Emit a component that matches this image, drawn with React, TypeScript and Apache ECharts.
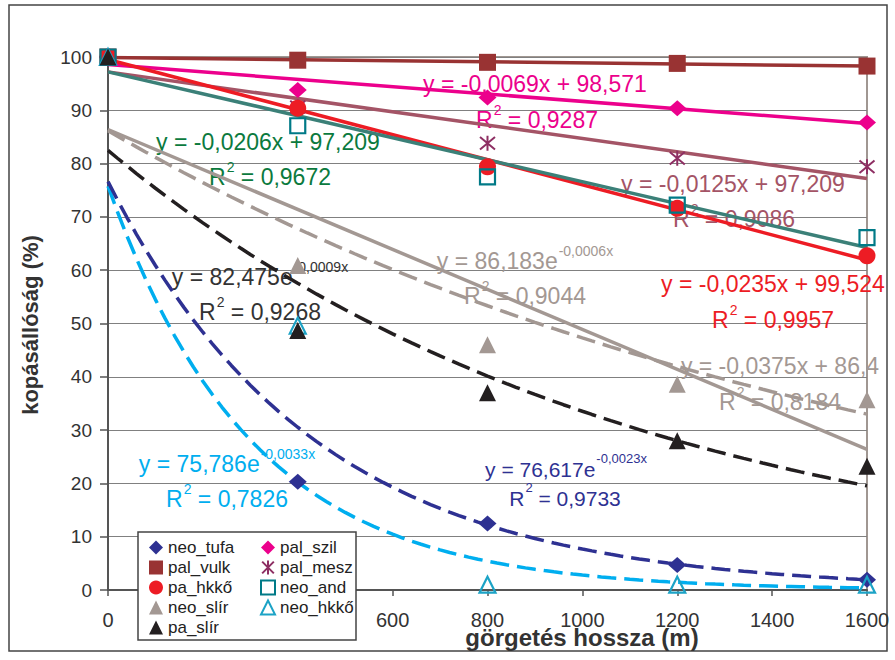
import React, { useEffect, useRef } from "react";
import * as echarts from "echarts";

// ---- data ----
const xValues = [0, 400, 800, 1200, 1600];
const xTicks = [0, 200, 400, 600, 800, 1000, 1200, 1400, 1600];
// 200 and 400 are hidden behind the legend box in the original
const xTickLabels = ["0", "", "", "600", "800", "1000", "1200", "1400", "1600"];
const yTicks = [0, 10, 20, 30, 40, 50, 60, 70, 80, 90, 100];

const neoTufa = [100, 20.3, 12.5, 4.7, 1.9];
const palSzil = [100, 93.8, 92.4, 90.4, 87.7];
const palVulk = [100, 99.4, 99.0, 98.8, 98.3];
const palMesz = [100, 90.6, 83.8, 81.0, 79.4];
const paHkko = [100, 90.4, 79.4, 71.6, 62.7];
const neoAnd = [100, 87.1, 77.5, 72.2, 66.1];
const neoSlir = [100, 60.9, 46.0, 38.6, 35.7];
const neoHkko = [100, 49.6, 1.0, 1.0, 1.0];
const paSlir = [100, 48.7, 37.0, 28.0, 23.2];

// trend line coefficients (intercept, slope / exponent) as printed
const linIntercepts = [99.9, 98.571, 97.209, 99.524, 97.209, 86.4];
const linSlopes = [-0.001, -0.0069, -0.0125, -0.0235, -0.0206, -0.0375];
const expFactors = [86.183, 82.475, 75.786, 76.617];
const expRates = [-0.0006, -0.0009, -0.0033, -0.0023];

// equation texts
const eqTexts = [
  "{m|y = -0,0206x + 97,209}",
  "{m|R}{s|2}{m| = 0,9672}",
  "{m|y = -0,0069x + 98,571}",
  "{m|R}{s|2}{m| = 0,9287}",
  "{m|y = -0,0125x + 97,209}",
  "{m|R}{s|2}{m| = 0,9086}",
  "{m|y = -0,0235x + 99,524}",
  "{m|R}{s|2}{m| = 0,9957}",
  "{m|y = -0,0375x + 86,4}",
  "{m|R}{s|2}{m| = 0,8184}",
  "{m|y = 86,183e}{s|-0,0006x}",
  "{m|R}{s|2}{m| = 0,9044}",
  "{m|y = 82,475e}{s|-0,0009x}",
  "{m|R}{s|2}{m| = 0,9268}",
  "{m|y = 75,786e}{s|-0,0033x}",
  "{m|R}{s|2}{m| = 0,7826}",
  "{m|y = 76,617e}{s|-0,0023x}",
  "{m|R}{s|2}{m| = 0,9733}",
];

// ---- styles / layout ----
const FONT = "'Liberation Sans', Arial, Helvetica, sans-serif";

const dataSeries = [
  { name: "neo_tufa", values: neoTufa, symbol: "diamond", size: [18, 16], fill: "#2E3192", stroke: "#2E3192", bw: 0 },
  { name: "pal_szil", values: palSzil, symbol: "diamond", size: [18, 16], fill: "#EC008C", stroke: "#EC008C", bw: 0 },
  { name: "pal_vulk", values: palVulk, symbol: "rect", size: 17, fill: "#993333", stroke: "#993333", bw: 0 },
  { name: "pal_mesz", values: palMesz, symbol: "path://M0,0L10,10M10,0L0,10M5,-1L5,11", size: 15, fill: "rgba(0,0,0,0)", stroke: "#8E2F63", bw: 2 },
  { name: "pa_hkkő", values: paHkko, symbol: "circle", size: 17, fill: "#ED1C24", stroke: "#ED1C24", bw: 0 },
  { name: "neo_and", values: neoAnd, symbol: "rect", size: 15, fill: "rgba(255,255,255,0)", stroke: "#007A87", bw: 2.2 },
  { name: "neo_slír", values: neoSlir, symbol: "triangle", size: 17, fill: "#A39893", stroke: "#A39893", bw: 0 },
  { name: "neo_hkkő", values: neoHkko, symbol: "triangle", size: 16, fill: "rgba(255,255,255,0)", stroke: "#1CA3C6", bw: 2.2 },
  { name: "pa_slír", values: paSlir, symbol: "triangle", size: 17, fill: "#231F20", stroke: "#231F20", bw: 0 },
];

const linColors = ["#993333", "#EC008C", "#A45466", "#ED1C24", "#3B8078", "#A39893"];
const expColors = ["#A39893", "#231F20", "#00AEEF", "#2E3192"];
const eqColors = [
  "#0B7A3E", "#0B7A3E", "#EC008C", "#EC008C", "#A45466", "#A45466", "#ED1C24", "#ED1C24",
  "#A39893", "#A39893", "#A39893", "#A39893", "#333333", "#333333", "#00AEEF", "#00AEEF",
  "#2E3192", "#2E3192",
];
const eqPos = [
  [268, 142], [270, 177], [535, 84], [537, 120], [733, 184], [734, 219],
  [773, 284], [773, 320], [780, 366], [780, 402], [525, 261], [525, 296],
  [260, 277], [260, 312], [227, 464], [227, 499], [566, 469], [565, 498],
];
const eqSizes = [23, 23, 23, 23, 23, 23, 23, 23, 23, 23, 23, 23, 23, 23, 23, 23, 21, 21];

export default function App() {
  const ref = useRef<HTMLDivElement>(null);
  useEffect(() => {
    document.body.style.margin = "0";
    if (!ref.current) return;
    const chart = echarts.init(ref.current, undefined, { renderer: "svg" });

    const trendSeries: any[] = [];
    linIntercepts.forEach((a, i) => {
      trendSeries.push({
        type: "line",
        name: "lin" + i,
        data: [0, 1600].map((x) => [x, a + linSlopes[i] * x]),
        symbol: "none",
        silent: true,
        z: 2,
        lineStyle: { color: linColors[i], width: 3.5 },
      });
    });
    expFactors.forEach((a, i) => {
      const pts: number[][] = [];
      for (let x = 0; x <= 1600; x += 20) pts.push([x, a * Math.exp(expRates[i] * x)]);
      trendSeries.push({
        type: "line",
        name: "exp" + i,
        data: pts,
        symbol: "none",
        silent: true,
        z: 2,
        lineStyle: { color: expColors[i], width: 3.5, type: [19, 8] },
      });
    });

    const scatterSeries = dataSeries.map((s) => ({
      type: "scatter",
      name: s.name,
      data: xValues.map((x, i) => [x, s.values[i]]),
      symbol: s.symbol,
      symbolSize: s.size,
      z: 3,
      itemStyle: { color: s.fill, borderColor: s.stroke, borderWidth: s.bw, opacity: 1 },
    }));

    const eqGraphics = eqTexts.map((t, i) => {
      const supSize = Math.round(eqSizes[i] * 0.62);
      return {
        type: "text",
        x: eqPos[i][0],
        y: eqPos[i][1],
        z: 1,
        silent: true,
        style: {
          text: t,
          align: "center",
          verticalAlign: "middle",
          fontFamily: FONT,
          fill: eqColors[i],
          rich: {
            m: { fontSize: eqSizes[i], lineHeight: 34, fill: eqColors[i], fontFamily: FONT },
            s: { fontSize: supSize, lineHeight: supSize, verticalAlign: "top", fill: eqColors[i], fontFamily: FONT, padding: [0, 0, 0, 1] },
          },
        },
      };
    });

    const legendText = { fontSize: 17, color: "#222", fontFamily: FONT };

    chart.setOption({
      animation: false,
      backgroundColor: "#ffffff",
      grid: {
        left: 108,
        right: 28,
        top: 57,
        bottom: 70,
        show: true,
        borderColor: "#A09792",
        borderWidth: 2,
        backgroundColor: "transparent",
      },
      xAxis: {
        type: "value",
        min: xTicks[0],
        max: xTicks[xTicks.length - 1],
        interval: xTicks[1] - xTicks[0],
        axisLine: { show: true, onZero: false, lineStyle: { color: "#555", width: 2 } },
        axisTick: { show: true, length: 6, lineStyle: { color: "#555", width: 1.5 } },
        splitLine: { show: false },
        axisLabel: {
          fontSize: 20,
          color: "#333",
          fontFamily: FONT,
          margin: 20,
          formatter: (v: number) => {
            const idx = xTicks.indexOf(v);
            return idx >= 0 ? xTickLabels[idx] : "";
          },
        },
      },
      yAxis: {
        type: "value",
        min: yTicks[0],
        max: yTicks[yTicks.length - 1],
        interval: yTicks[1] - yTicks[0],
        axisLine: { show: true, lineStyle: { color: "#555", width: 2 } },
        axisTick: { show: true, length: 8, lineStyle: { color: "#555", width: 1.5 } },
        splitLine: { show: true, lineStyle: { color: "#808080", width: 1.2 } },
        axisLabel: { fontSize: 19, color: "#333", fontFamily: FONT, margin: 16 },
      },
      legend: [
        {
          orient: "vertical",
          left: 144,
          top: 534,
          z: 5,
          itemWidth: 14,
          itemHeight: 14,
          itemGap: 3,
          textStyle: legendText,
          data: ["neo_tufa", "pal_vulk", "pa_hkkő", "neo_slír", "pa_slír"],
          selectedMode: false,
        },
        {
          orient: "vertical",
          left: 255,
          top: 534,
          z: 5,
          itemWidth: 14,
          itemHeight: 14,
          itemGap: 3,
          textStyle: legendText,
          data: ["pal_szil", "pal_mesz", "neo_and", "neo_hkkő"],
          selectedMode: false,
        },
      ],
      graphic: [
        {
          type: "rect",
          z: 4,
          silent: true,
          shape: { x: 138, y: 532, width: 218, height: 108 },
          style: { fill: "#ffffff", stroke: "#444", lineWidth: 1.5 },
        },
        {
          type: "rect",
          z: 0,
          silent: true,
          shape: { x: 9, y: 5, width: 878, height: 646 },
          style: { fill: "none", stroke: "#444", lineWidth: 1.5 },
        },
        {
          type: "text",
          x: 582,
          y: 637,
          z: 6,
          style: {
            text: "görgetés hossza (m)",
            align: "center",
            verticalAlign: "middle",
            fontSize: 24,
            fontWeight: "bold",
            fontFamily: FONT,
            fill: "#333",
          },
        },
        {
          type: "text",
          x: 30,
          y: 325,
          rotation: Math.PI / 2,
          z: 6,
          style: {
            text: "kopásállóság (%)",
            align: "center",
            verticalAlign: "middle",
            fontSize: 22,
            fontWeight: "bold",
            fontFamily: FONT,
            fill: "#333",
          },
        },
        ...eqGraphics,
      ],
      series: [...trendSeries, ...scatterSeries],
    });

    return () => chart.dispose();
  }, []);

  return <div ref={ref} style={{ width: 895, height: 660 }} />;
}
